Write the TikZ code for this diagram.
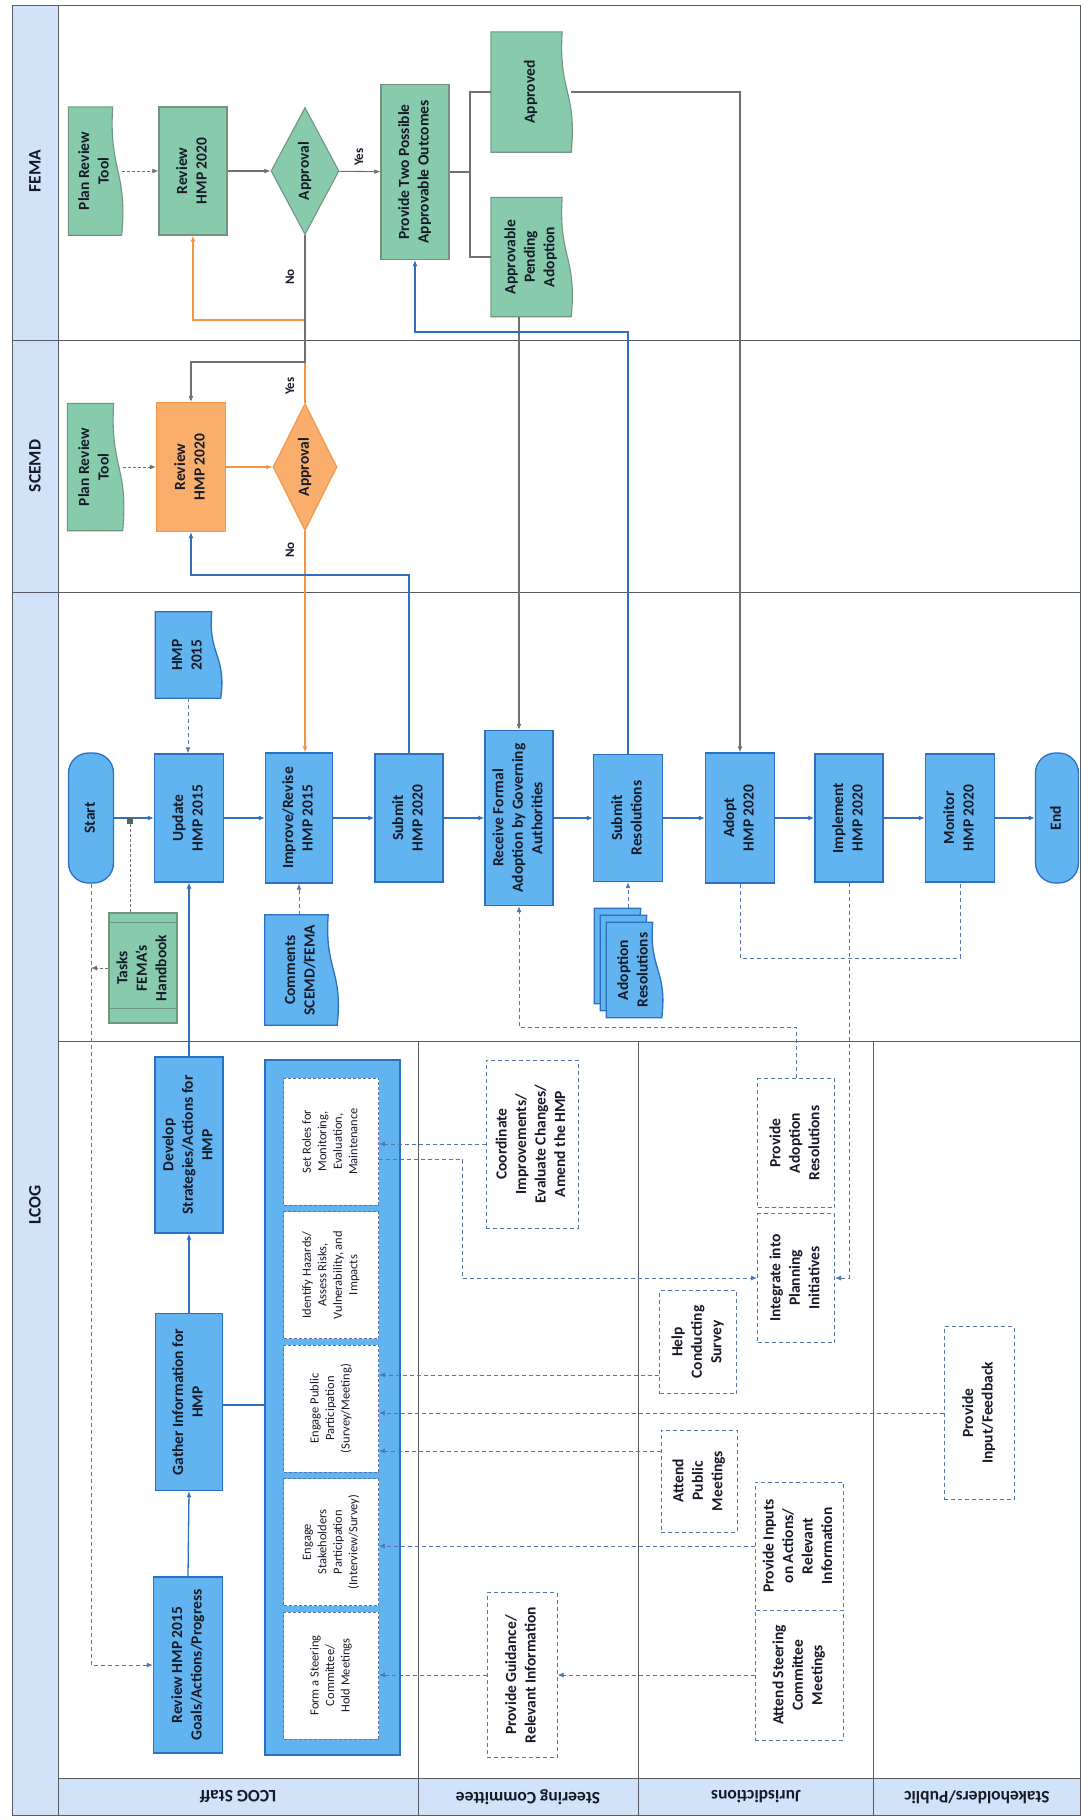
\documentclass[tikz,border=0pt]{standalone}
\usepackage{fontspec}
\setmainfont{Carlito}
\usetikzlibrary{arrows.meta,shapes.geometric,calc}
\pgfdeclarelayer{background}
\pgfsetlayers{background,main}

\definecolor{boxblue}{RGB}{97,180,240}
\definecolor{edgeblue}{RGB}{42,112,195}
\definecolor{boxgreen}{RGB}{136,202,172}
\definecolor{edgegreen}{RGB}{112,150,130}
\definecolor{boxorange}{RGB}{250,174,108}
\definecolor{edgeorange}{RGB}{242,150,70}
\definecolor{stripblue}{RGB}{208,227,248}
\definecolor{lanegray}{RGB}{88,90,100}
\definecolor{linegray}{RGB}{112,112,112}
\definecolor{lineblue}{RGB}{48,110,190}
\definecolor{dashblue}{RGB}{84,118,170}
\definecolor{ink}{RGB}{22,26,40}

\newcommand{\rt}[1]{\rotatebox{90}{\begin{tabular}{@{}c@{}}#1\end{tabular}}}
% document symbol, wavy edge on the right
\newcommand{\docshape}[2]{%
  \begin{pgfonlayer}{background}
  \draw[#2] (#1.north west) -- ($(#1.north east)+(-9,0)$)
    .. controls ($(#1.north east)!0.5!(#1.south east)+(-13,0)$)
    and ($(#1.north east)!0.5!(#1.south east)+(6,0)$) .. (#1.south east)
    -- (#1.south west) -- cycle;
  \end{pgfonlayer}}

\begin{document}
\begin{tikzpicture}[x=1pt,y=-1pt,
  every node/.style={text=ink, inner sep=1pt, font=\fontsize{15.5}{19.5}\selectfont\bfseries},
  bbox/.style={draw=edgeblue, fill=boxblue, line width=1.3pt},
  gbox/.style={draw=edgegreen, fill=boxgreen, line width=1.1pt},
  obox/.style={draw=edgeorange, fill=boxorange, line width=1.1pt},
  dbox/.style={draw=dashblue, dash pattern=on 4pt off 3pt, line width=1pt, fill=white},
  ibox/.style={draw=dashblue, densely dashed, fill=white, line width=.8pt, font=\fontsize{12.5}{15.5}\selectfont},
  lane/.style={font=\fontsize{17.5}{20}\selectfont\bfseries},
  yn/.style={font=\fontsize{13}{15}\selectfont\bfseries},
  tipped/.style={-{Latex[length=6pt,width=5pt]}},
  barrow/.style={draw=lineblue, line width=1.3pt, tipped},
  bline/.style={draw=lineblue, line width=1.3pt},
  bdash/.style={draw=dashblue, line width=1pt, dash pattern=on 4pt off 3pt},
  garrow/.style={draw=linegray, line width=1.1pt, tipped},
  gline/.style={draw=linegray, line width=1.1pt},
  gdash/.style={draw=linegray, line width=1pt, densely dashed},
  oarrow/.style={draw=edgeorange, line width=1.2pt, tipped}
]
\useasboundingbox (0,0) rectangle (1081,1820);

% lanes
\fill[stripblue] (12,5) rectangle (58,1815);
\fill[stripblue] (58,1778) rectangle (1081,1815);
\draw[lanegray, line width=1pt] (12,5) rectangle (1080,1815);
\draw[lanegray, line width=1pt] (58,5) -- (58,1815);
\draw[lanegray, line width=1pt] (12,340) -- (1080,340);
\draw[lanegray, line width=1pt] (12,592) -- (1080,592);
\draw[lanegray, line width=1pt] (58,1041) -- (1080,1041);
\draw[lanegray, line width=1pt] (58,1778) -- (1080,1778);
\foreach \x in {418,638,873} \draw[lanegray, line width=1pt] (\x,1041) -- (\x,1815);

\node[lane, rotate=90] (femalbl) at (35,171) {FEMA};
\node[lane, rotate=90] (scemdlbl) at (35,466) {SCEMD};
\node[lane, rotate=90] (lcoglbl) at (35,1205) {LCOG};
\node[lane, rotate=180] (stafflbl) at (238,1797) {LCOG Staff};
\node[lane, rotate=180] (steerlbl) at (528,1797) {Steering Committee};
\node[lane, rotate=180] (jurlbl) at (756,1797) {Jurisdictions};
\node[lane, rotate=180] (publbl) at (977,1797) {Stakeholders/Public};

% FEMA
\node[minimum width=53, minimum height=128] (femaTool) at (95,171) {\rt{Plan Review\\Tool}};
\docshape{femaTool}{gbox}
\node[gbox, minimum width=68, minimum height=128] (femaReview) at (193,171) {\rt{Review\\HMP 2020}};
\node[gbox, diamond, aspect=0.5, inner sep=0pt, minimum width=68, minimum height=127] (femaOK) at (305,171) {\rt{Approval}};
\node[gbox, minimum width=68, minimum height=175] (outcomes) at (415,172) {\rt{Provide Two Possible\\Approvable Outcomes}};
\node[minimum width=80, minimum height=120] (approved) at (531,92) {\rt{Approved}};
\docshape{approved}{gbox}
\node[minimum width=80, minimum height=119] (pending) at (531,257) {\rt{Approvable\\Pending\\Adoption}};
\docshape{pending}{gbox}

% SCEMD
\node[minimum width=55, minimum height=127] (scemdTool) at (95,467) {\rt{Plan Review\\Tool}};
\docshape{scemdTool}{gbox}
\node[obox, minimum width=69, minimum height=129] (scemdReview) at (191,467) {\rt{Review\\HMP 2020}};
\node[obox, diamond, aspect=0.5, inner sep=0pt, minimum width=64, minimum height=127] (scemdOK) at (305,467) {\rt{Approval}};

% LCOG main flow
\node[minimum width=65, minimum height=86] (hmp15) at (188,655) {\rt{HMP\\2015}};
\docshape{hmp15}{bbox}
\node[bbox, rounded corners=20pt, minimum width=45, minimum height=130] (start) at (91,818) {\rt{Start}};
\node[bbox, minimum width=69, minimum height=128] (update) at (189,818) {\rt{Update\\HMP 2015}};
\node[bbox, minimum width=67, minimum height=130] (improve) at (299,818) {\rt{Improve/Revise\\HMP 2015}};
\node[bbox, minimum width=68, minimum height=128] (submit) at (409,818) {\rt{Submit\\HMP 2020}};
\node[bbox, minimum width=68, minimum height=175] (receive) at (519,818) {\rt{Receive Formal\\Adoption by Governing\\Authorities}};
\node[bbox, minimum width=69, minimum height=127] (subres) at (628,818) {\rt{Submit\\Resolutions}};
\node[bbox, minimum width=69, minimum height=130] (adopt) at (740,818) {\rt{Adopt\\HMP 2020}};
\node[bbox, minimum width=68, minimum height=128] (implement) at (849,818) {\rt{Implement\\HMP 2020}};
\node[bbox, minimum width=69, minimum height=128] (monitor) at (960,818) {\rt{Monitor\\HMP 2020}};
\node[bbox, rounded corners=20pt, minimum width=43, minimum height=130] (finish) at (1057,818) {\rt{End}};

\node[gbox, minimum width=68, minimum height=110] (tasks) at (143,968) {\rt{Tasks\\FEMA's\\Handbook}};
\draw[edgegreen, line width=1pt] ([yshift=-10pt]tasks.north west) -- ([yshift=-10pt]tasks.north east)
  ([yshift=15pt]tasks.south west) -- ([yshift=15pt]tasks.south east);
\node[minimum width=72, minimum height=110] (comments) at (301,970) {\rt{Comments\\SCEMD/FEMA}};
\docshape{comments}{bbox}
\node[minimum width=55, minimum height=95] (adoptback) at (622,956) {};
\docshape{adoptback}{bbox}
\node[minimum width=55, minimum height=95] (adoptmid) at (628,963) {};
\docshape{adoptmid}{bbox}
\node[minimum width=55, minimum height=95] (adoptres) at (634,970) {\rt{Adoption\\Resolutions}};
\docshape{adoptres}{bbox}

% LCOG staff lane
\node[bbox, minimum width=68, minimum height=176] (develop) at (189,1145) {\rt{Develop\\Strategies/Actions for\\HMP}};
\node[bbox, minimum width=67, minimum height=177] (gather) at (189,1402) {\rt{Gather Information for\\HMP}};
\node[bbox, minimum width=69, minimum height=176] (reviewgoals) at (188,1665) {\rt{Review HMP 2015\\Goals/Actions/Progress}};
\node[bbox, line width=1.5pt, minimum width=135, minimum height=695] (panel) at (332.5,1407.5) {};
\node[ibox, minimum width=95, minimum height=127] (roles) at (331,1141.5) {\rt{Set Roles for\\Monitoring,\\Evaluation,\\Maintenance}};
\node[ibox, minimum width=95, minimum height=127] (hazards) at (331,1275) {\rt{Identify Hazards/\\Assess Risks,\\Vulnerability, and\\Impacts}};
\node[ibox, minimum width=95, minimum height=127] (public) at (331,1408.5) {\rt{Engage Public\\Participation\\(Survey/Meeting)}};
\node[ibox, minimum width=95, minimum height=127] (stake) at (331,1542) {\rt{Engage\\Stakeholders\\Participation\\(Interview/Survey)}};
\node[ibox, minimum width=95, minimum height=127] (form) at (331,1675.5) {\rt{Form a Steering\\Committee/\\Hold Meetings}};

% steering committee, jurisdictions, public
\node[dbox, minimum width=92, minimum height=168] (coord) at (532,1144) {\rt{Coordinate\\Improvements/\\Evaluate Changes/\\Amend the HMP}};
\node[dbox, minimum width=70, minimum height=165] (provguide) at (522,1675) {\rt{Provide Guidance/\\Relevant Information}};
\node[dbox, minimum width=77, minimum height=129] (provadopt) at (796,1143) {\rt{Provide\\Adoption\\Resolutions}};
\node[dbox, minimum width=77, minimum height=129] (integrate) at (796,1278) {\rt{Integrate into\\Planning\\Initiatives}};
\node[dbox, minimum width=77, minimum height=103] (helpsurvey) at (698,1342) {\rt{Help\\Conducting\\Survey}};
\node[dbox, minimum width=76, minimum height=102] (attendpub) at (699,1481) {\rt{Attend\\Public\\Meetings}};
\node[dbox, minimum width=88, minimum height=128] (provinputs) at (799,1546) {\rt{Provide Inputs\\on Actions/\\Relevant\\Information}};
\node[dbox, minimum width=88, minimum height=130] (attendsteer) at (799,1675) {\rt{Attend Steering\\Committee\\Meetings}};
\node[dbox, minimum width=70, minimum height=173] (feedback) at (979,1413) {\rt{Provide\\Input/Feedback}};

% FEMA connectors
\draw[gdash, tipped] (femaTool.east) -- (femaReview.west);
\draw[garrow] (femaReview) -- (femaOK);
\draw[garrow] (femaOK) -- (outcomes);
\node[yn] (yesfema) at (360,157) {\rt{Yes}};
\coordinate (split) at (470,172);
\draw[gline] (outcomes.east) -- (split);
\draw[gline] (approved.west) -| (split) |- (pending.west);
\draw[garrow] (approved.east) -| (adopt.north);
\draw[garrow] (pending.south -| receive.north) -- (receive.north);

% approval loops
\coordinate (yesbend) at (305,320);
\coordinate (nobend) at (305,362);
\draw[oarrow] (scemdOK.north) -- (yesbend) -| (femaReview.south);
\draw[garrow] (femaOK.south) -- (nobend) -| (scemdReview.north);
\node[yn] (nofema) at (291,277) {\rt{No}};
\node[yn] (yesscemd) at (291,386) {\rt{Yes}};
\node[yn] (noscemd) at (291,550) {\rt{No}};

% SCEMD connectors
\draw[gdash, tipped] (scemdTool.east) -- (scemdReview.west);
\draw[oarrow] (scemdReview) -- (scemdOK);
\draw[oarrow] (scemdOK.south) -- (scemdOK.south |- improve.north);
\draw[barrow] (submit.north) |- ($(scemdReview.south)+(0,43)$) -- (scemdReview.south);
\draw[barrow] (subres.north) |- ($(outcomes.south)+(0,72)$) -- (outcomes.south);

% main flow
\foreach \a/\b in {start/update, update/improve, improve/submit, submit/receive, receive/subres,
  subres/adopt, adopt/implement, implement/monitor, monitor/finish}
  \draw[barrow] (\a) -- (\b);
\draw[bdash, tipped] (hmp15.south) -- (hmp15.south |- update.north);
\coordinate (taskjoin) at (130,818);
\draw[gdash] (tasks.north -| taskjoin) -- (taskjoin);
\fill[edgegreen!70!black] ($(taskjoin)+(-3,0)$) rectangle ($(taskjoin)+(3,6)$);
\draw[gdash, tipped] (tasks.west) -- (tasks.west -| start.south);
\draw[bdash, tipped] (start.south) |- (reviewgoals.west);
\draw[bdash, tipped] (comments.north -| improve.south) -- (improve.south);
\draw[bdash, tipped] (adoptback.north -| subres.south) -- (subres.south);
\coordinate (adbend) at (0,1027);
\draw[bdash, tipped] (provadopt.north) -- (provadopt.north |- adbend) -| (receive.south);
\coordinate (aimline) at (0,958);
\draw[bdash] (adopt.south) -- (adopt.south |- aimline) -| (monitor.south);
\draw[bdash, tipped] (implement.south) |- (integrate.east);

% LCOG staff connectors
\draw[barrow] (develop.north) -- (update.south);
\draw[barrow] (gather.north) -- (develop.south);
\draw[barrow] (reviewgoals.north) -- (gather.south);
\coordinate (gp) at (0,1405);
\draw[bline] (gather.east |- gp) -- (panel.west |- gp);

% dashed links to the panel
\draw[bdash, tipped] (coord.west) -- (coord.west -| roles.east);
\draw[bdash, tipped] ([yshift=-18pt]roles.east) -- ++(84,0) |- (integrate.west);
\coordinate (hsline) at (0,1375);
\draw[bdash, tipped] (helpsurvey.west |- hsline) -- (public.east |- hsline);
\draw[bdash, tipped] (feedback.west) -- (feedback.west -| public.east);
\coordinate (apline) at (0,1451);
\draw[bdash, tipped] (attendpub.west |- apline) -- (public.east |- apline);
\draw[bdash, tipped] (provinputs.west) -- (provinputs.west -| stake.east);
\draw[bdash, tipped] (provguide.west) -- (provguide.west -| form.east);
\draw[bdash, tipped] (attendsteer.west) -- (attendsteer.west -| provguide.east);

\end{tikzpicture}
\end{document}
